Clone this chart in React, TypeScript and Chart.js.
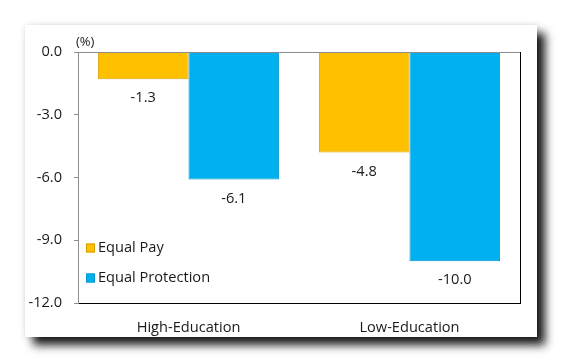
import React, { useEffect, useRef } from "react";
import { Chart, registerables } from "chart.js";

Chart.register(...registerables);

const categories = ["High-Education", "Low-Education"];
const seriesNames = ["Equal Pay", "Equal Protection"];
const equalPay = [-1.3, -4.8];
const equalProtection = [-6.1, -10.0];
const seriesColors = ["#FFC000", "#00B0F0"];
const seriesBorders = ["#D9A000", "#0098D0"];
const yMin = -12;
const yMax = 0;
const yStep = 3;
const unitLabel = "(%)";

const FONT = "'Open Sans', 'Noto Sans', sans-serif";
const TEXT = "#1a1a1a";
const FS = 14.6;

const overlayPlugin = {
  id: "overlay",
  afterDatasetsDraw(chart: any) {
    const { ctx, chartArea } = chart;
    ctx.save();
    // plot border: top gray, right black
    ctx.lineWidth = 1;
    ctx.strokeStyle = "#8c8c8c";
    ctx.beginPath();
    ctx.moveTo(chartArea.left, chartArea.top + 0.5);
    ctx.lineTo(chartArea.right, chartArea.top + 0.5);
    ctx.stroke();
    ctx.strokeStyle = "#000000";
    ctx.beginPath();
    ctx.moveTo(chartArea.right + 0.5, chartArea.top);
    ctx.lineTo(chartArea.right + 0.5, chartArea.bottom);
    ctx.stroke();

    // data labels
    ctx.fillStyle = TEXT;
    ctx.font = `${FS}px ${FONT}`;
    ctx.textAlign = "center";
    ctx.textBaseline = "middle";
    chart.data.datasets.forEach((ds: any, di: number) => {
      const meta = chart.getDatasetMeta(di);
      meta.data.forEach((bar: any, i: number) => {
        const v = ds.data[i] as number;
        ctx.fillText(v.toFixed(1), bar.x, bar.y + 19);
      });
    });

    // legend inside plot
    const lx = chartArea.left + 8;
    const ys = [chartArea.top + 196, chartArea.top + 226];
    chart.data.datasets.forEach((ds: any, di: number) => {
      const y = ys[di];
      ctx.fillStyle = ds.backgroundColor;
      ctx.fillRect(lx, y - 4.5, 9, 9);
      ctx.strokeStyle = ds.borderColor;
      ctx.lineWidth = 1;
      ctx.strokeRect(lx + 0.5, y - 4, 8, 8);
      ctx.fillStyle = TEXT;
      ctx.textAlign = "left";
      ctx.fillText(ds.label, lx + 12, y);
    });

    // unit label
    ctx.font = `13px ${FONT}`;
    ctx.textAlign = "left";
    ctx.fillText(unitLabel, chartArea.left - 2, chartArea.top - 10);
    ctx.restore();
  },
};

function ChartCanvas() {
  const ref = useRef<HTMLCanvasElement | null>(null);
  useEffect(() => {
    if (!ref.current) return;
    const chart = new Chart(ref.current, {
      type: "bar",
      data: {
        labels: categories,
        datasets: [
          {
            label: seriesNames[0],
            data: equalPay,
            backgroundColor: seriesColors[0],
            borderColor: seriesBorders[0],
            borderWidth: 1,
            categoryPercentage: 0.82,
            barPercentage: 1,
          },
          {
            label: seriesNames[1],
            data: equalProtection,
            backgroundColor: seriesColors[1],
            borderColor: seriesBorders[1],
            borderWidth: 1,
            categoryPercentage: 0.82,
            barPercentage: 1,
          },
        ] as any,
      },
      options: {
        animation: false,
        responsive: false,
        maintainAspectRatio: false,
        layout: { padding: { left: 0, top: 27, right: 17, bottom: 0 } },
        plugins: { legend: { display: false }, tooltip: { enabled: false } },
        scales: {
          x: {
            grid: { display: false },
            border: { display: true, color: "#000000", width: 1 },
            ticks: { color: TEXT, font: { family: FONT, size: FS }, padding: 8 },
            afterFit(scale: any) {
              scale.height = 34;
            },
          },
          y: {
            min: yMin,
            max: yMax,
            ticks: {
              stepSize: yStep,
              color: TEXT,
              font: { family: FONT, size: FS },
              padding: 12,
              callback: (v: any) => Number(v).toFixed(1),
            },
            grid: { drawOnChartArea: false, drawTicks: true, tickLength: 4, color: "#8c8c8c" },
            border: { display: true, color: "#8c8c8c", width: 1 },
            afterFit(scale: any) {
              scale.width = 53;
            },
          },
        },
      } as any,
      plugins: [overlayPlugin],
    });
    return () => chart.destroy();
  }, []);
  return <canvas ref={ref} width={512} height={312} style={{ display: "block" }} />;
}

export default function App() {
  return (
    <div style={{ position: "fixed", left: 0, top: 0, width: 563, height: 363, background: "#ffffff" }}>
      <div
        style={{
          position: "absolute",
          left: 25,
          top: 25,
          width: 512,
          height: 312,
          background: "#ffffff",
          boxShadow: "8px 8px 9px rgba(0,0,0,0.9), 0 0 6px rgba(0,0,0,0.12)",
        }}
      >
        <ChartCanvas />
      </div>
    </div>
  );
}
